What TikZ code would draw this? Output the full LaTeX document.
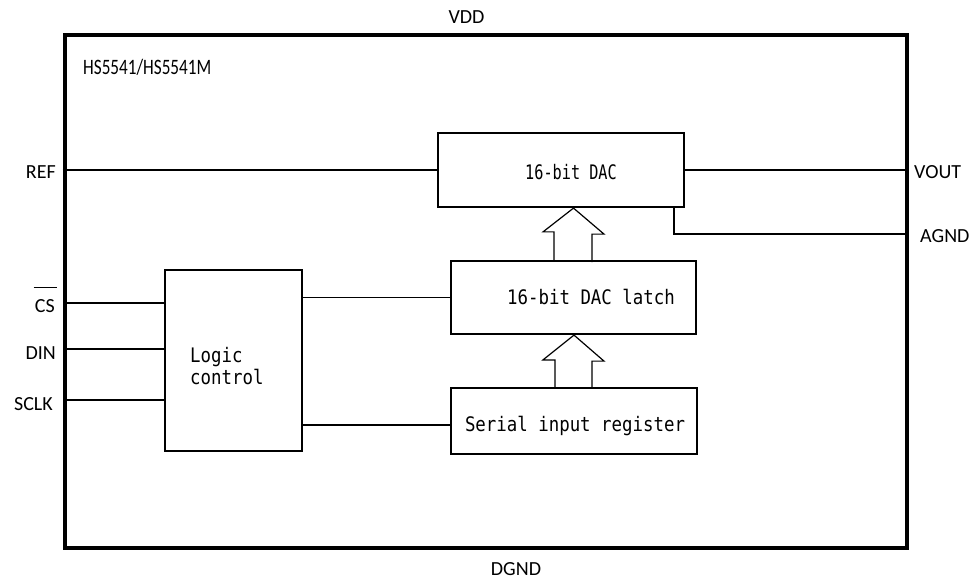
\documentclass[tikz,border=0pt]{standalone}
\usepackage{fontspec}
\usetikzlibrary{calc}
\newfontfamily\lblfont{Carlito}
\newfontfamily\titlefont[FakeStretch=0.78]{Carlito}
\newfontfamily\boxfont[FakeStretch=0.87]{DejaVu Sans Mono}
\newfontfamily\dacfont[FakeStretch=0.76]{DejaVu Sans Mono}
\begin{document}
\begin{tikzpicture}[x=1bp,y=-1bp,
  pinlbl/.style={font=\lblfont\fontsize{20bp}{24bp}\selectfont, inner sep=0pt},
  boxtxt/.style={font=\boxfont\fontsize{20bp}{22bp}\selectfont, inner sep=0pt},
  block/.style={draw, line width=2.2bp, inner sep=0pt},
  thinblock/.style={draw, line width=1.4bp, inner sep=0pt},
  wire/.style={line width=1.5bp},
  hollow/.style={line width=1.2bp, line join=miter},
]
\useasboundingbox (0,0) rectangle (976,581);
% outer package
\node[draw, line width=4.5bp, minimum width=842bp, minimum height=513bp, inner sep=0pt] (outer) at (486,291.5) {};
\node[font=\titlefont\fontsize{22bp}{24bp}\selectfont, inner sep=0pt, anchor=base west] (title) at (83,75) {HS5541/HS5541M};
% blocks
\node[block, minimum width=246bp, minimum height=74bp] (dac) at (561,170) {};
\node[block, minimum width=245bp, minimum height=73bp] (latch) at (573.5,297.5) {};
\node[block, minimum width=246bp, minimum height=66bp] (serial) at (574,421) {};
\node[thinblock, minimum width=137bp, minimum height=181bp] (logic) at (233.5,360.5) {};
% block texts
\node[boxtxt, font=\dacfont\fontsize{20bp}{22bp}\selectfont, anchor=base] (dactxt) at (571,180) {16-bit DAC};
\node[boxtxt, anchor=base] (latchtxt) at (591,304) {16-bit DAC latch};
\node[boxtxt, anchor=base] (serialtxt) at (575,431) {Serial input register};
\node[boxtxt, align=left, anchor=west] (logictxt) at (190,366.5) {Logic\\control};
% pin labels
\node[pinlbl, anchor=base] (vdd) at (466.5,24) {VDD};
\node[pinlbl, anchor=base] (dgnd) at (516,575) {DGND};
\node[pinlbl, anchor=base east] (ref) at (56,179) {REF};
\node[pinlbl, anchor=base east] (cs) at (55,312) {CS};
\node[pinlbl, anchor=base east] (din) at (56,359) {DIN};
\node[pinlbl, anchor=base east] (sclk) at (53,410) {SCLK};
\node[pinlbl, anchor=base west] (vout) at (914,179) {VOUT};
\node[pinlbl, anchor=base west] (agnd) at (920,243) {AGND};
\draw[line width=1.3bp] ([xshift=-1bp,yshift=11bp]cs.north west) -- ([xshift=2bp,yshift=11bp]cs.north east);
% wires
\draw[wire] (outer.west |- dac.west) -- (dac.west);
\draw[wire] (dac.east) -- (outer.east |- dac.east);
\coordinate (agndtap) at ($(dac.south east)+(-11,0)$);
\coordinate (agndpin) at (907,234);
\draw[wire] (agndtap) |- (agndpin);
\coordinate (cspin) at (65,303);
\coordinate (dinpin) at (65,349);
\coordinate (sclkpin) at (65,400);
\draw[wire] (cspin) -- (cspin -| logic.west);
\draw[wire] (dinpin) -- (dinpin -| logic.west);
\draw[wire] (sclkpin) -- (sclkpin -| logic.west);
\draw[wire] (logic.east |- latch.west) -- (latch.west);
\coordinate (sertap) at ([yshift=-4bp]serial.west);
\draw[wire] (logic.east |- sertap) -- (sertap);
% hollow bus arrows
\coordinate (tipA) at (latch.north |- dac.south);
\coordinate (tipB) at (serial.north |- latch.south);
\draw[hollow] ([xshift=-19.5bp]latch.north) -- ++(0,-28) -- ++(-11,0)
  -- (tipA) -- ++(30.5,26) -- ++(-12,0) -- ++(0,28);
\draw[hollow] ([xshift=-19bp]serial.north) -- ++(0,-27) -- ++(-12,0)
  -- (tipB) -- ++(30,26) -- ++(-12,0) -- ++(0,27);
\end{tikzpicture}
\end{document}
